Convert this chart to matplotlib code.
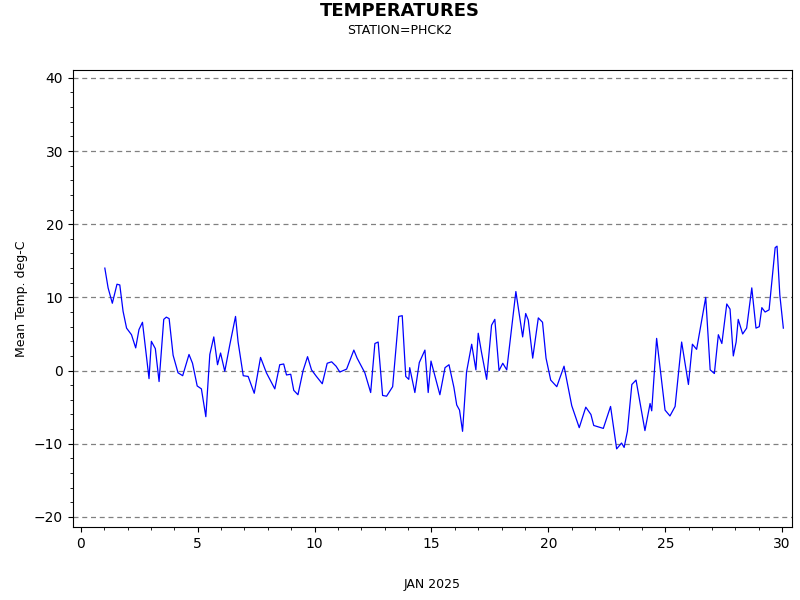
import matplotlib.pyplot as plt
from matplotlib.ticker import MultipleLocator

day = [1.03, 1.17, 1.35, 1.55, 1.67, 1.81, 1.96, 2.17, 2.35, 2.49, 2.64, 2.92, 3.02, 3.19, 3.35,
       3.55, 3.66, 3.78, 3.95, 4.16, 4.36, 4.63, 4.78, 4.98, 5.16, 5.35, 5.52, 5.69, 5.85, 5.98,
       6.16, 6.38, 6.62, 6.73, 6.95, 7.16, 7.42, 7.69, 7.94, 8.3, 8.51, 8.68, 8.8, 8.98, 9.11,
       9.29, 9.51, 9.7, 9.87, 10.08, 10.33, 10.54, 10.73, 10.92,
       11.08, 11.37, 11.68, 11.82, 12.15, 12.4, 12.58, 12.72, 12.91, 13.08, 13.34, 13.6, 13.75,
       13.9, 14.03, 14.07, 14.29, 14.48, 14.72, 14.86, 14.98, 15.36, 15.58, 15.75, 15.96, 16.08,
       16.2, 16.33, 16.5, 16.72, 16.9, 17.0, 17.14, 17.36, 17.57, 17.71, 17.89, 18.05, 18.22,
       18.61, 18.9, 19.03, 19.14, 19.33, 19.57, 19.75, 19.9, 20.1, 20.36, 20.67,
       21.0, 21.32, 21.6, 21.82, 21.94, 22.35, 22.66, 22.92, 23.13, 23.24, 23.38, 23.57, 23.75,
       24.13, 24.35, 24.42, 24.63, 24.99, 25.2, 25.42, 25.7, 25.99, 26.16, 26.34, 26.73, 26.92,
       27.1, 27.27, 27.42, 27.63, 27.77, 27.91, 28.03, 28.12, 28.31, 28.48, 28.7, 28.88, 29.02,
       29.13, 29.27, 29.44, 29.7, 29.78, 29.9, 30.05]
temp = [14.0, 11.3, 9.2, 11.8, 11.7, 8.1, 5.8, 4.9, 3.1, 5.6, 6.6, -1.1, 4.0, 3.0, -1.5,
        7.0, 7.3, 7.1, 2.1, -0.3, -0.7, 2.2, 1.0, -2.1, -2.5, -6.3, 2.2, 4.6, 0.8, 2.4,
        -0.1, 3.6, 7.4, 3.9, -0.7, -0.8, -3.1, 1.8, -0.3, -2.5, 0.8, 0.9, -0.6, -0.5, -2.7,
        -3.3, 0.0, 1.9, 0.1, -0.8, -1.8, 1.0, 1.2, 0.6,
        -0.2, 0.2, 2.8, 1.7, -0.3, -3.0, 3.7, 3.9, -3.4, -3.5, -2.2, 7.4, 7.5,
        -0.8, -1.2, 0.4, -3.0, 1.1, 2.8, -3.0, 1.3, -3.3, 0.4, 0.8, -2.3, -4.7,
        -5.4, -8.3, -0.2, 3.6, 0.1, 5.1, 2.5, -1.2, 6.2, 7.0, 0.0, 1.0, 0.1,
        10.8, 4.6, 7.8, 6.9, 1.7, 7.2, 6.6, 1.7, -1.3, -2.2, 0.6,
        -4.8, -7.8, -5.0, -6.0, -7.5, -7.9, -4.9, -10.7, -9.9, -10.5, -8.3, -1.9, -1.3,
        -8.2, -4.5, -5.5, 4.4, -5.4, -6.2, -4.9, 3.9, -1.9, 3.6, 2.9, 10.0, 0.1,
        -0.4, 4.9, 3.7, 9.1, 8.4, 2.0, 3.9, 7.0, 5.0, 5.8, 11.3, 5.8, 6.0,
        8.6, 8.0, 8.3, 16.8, 17.0, 10.3, 5.8]

fig = plt.figure(figsize=(8, 6), dpi=100)
ax = fig.add_axes([0.091, 0.1217, 0.899, 0.762])
ax.plot(day, temp, color="blue", linewidth=0.9)

ax.set_xlim(-0.34, 30.42)
ax.set_ylim(-21.37, 41.1)
ax.xaxis.set_major_locator(MultipleLocator(5))
ax.xaxis.set_minor_locator(MultipleLocator(1))
ax.yaxis.set_major_locator(MultipleLocator(10))
ax.yaxis.set_minor_locator(MultipleLocator(2))
ax.tick_params(labelsize=10)
ax.grid(axis="y", which="major", linestyle=(0, (4, 3)), color="gray", linewidth=0.9)

ax.set_xlabel("JAN 2025", fontsize=9, labelpad=20)
ax.set_ylabel("Mean Temp. deg-C", fontsize=9)
fig.text(0.5, 0.982, "TEMPERATURES", ha="center", va="center", fontsize=13, fontweight="bold")
fig.text(0.5, 0.95, "STATION=PHCK2", ha="center", va="center", fontsize=9)

fig.savefig("out.png")
